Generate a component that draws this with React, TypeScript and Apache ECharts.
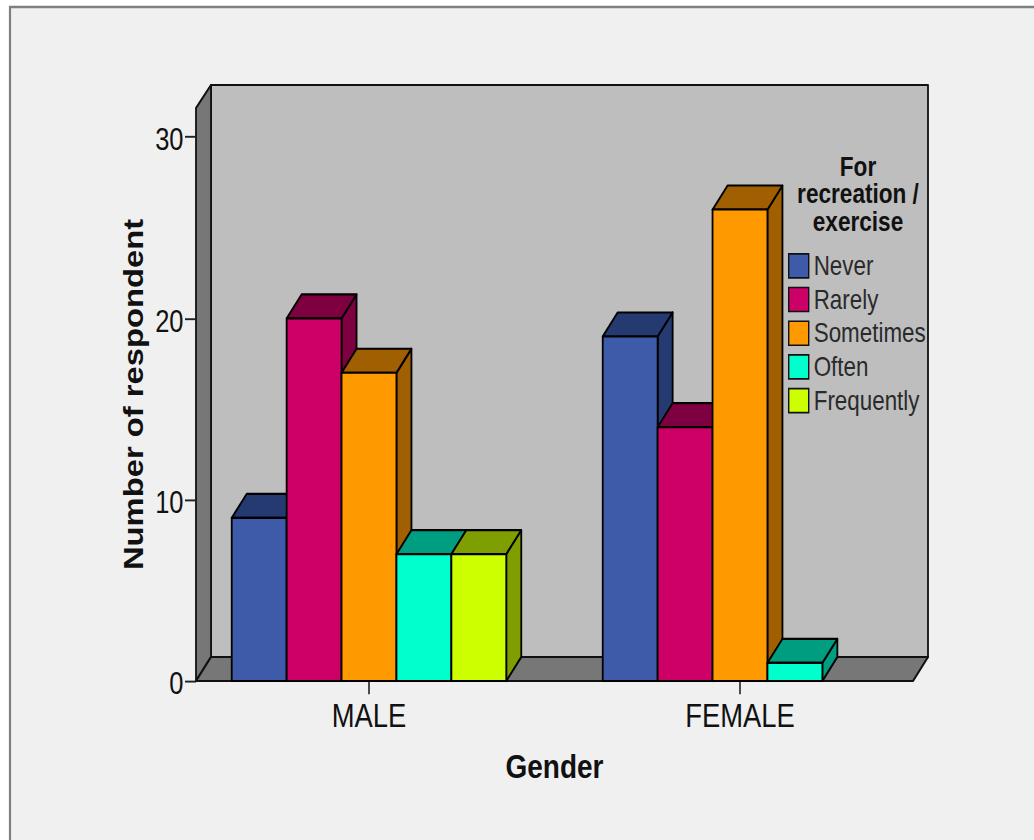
import React, { useEffect, useRef } from "react";
import * as echarts from "echarts";

const categories = ["MALE", "FEMALE"];
const responseLevels = ["Never", "Rarely", "Sometimes", "Often", "Frequently"];
const neverValues = [9, 19];
const rarelyValues = [20, 14];
const sometimesValues = [17, 26];
const oftenValues = [7, 1];
const frequentlyValues = [7, 0];
const yTicks = [0, 10, 20, 30];
const legendTitle = "For\nrecreation /\nexercise";

const frontColors = ["#3E5BA9", "#CC0066", "#FF9900", "#00FFCC", "#CCFF00"];
const shadeColors = ["#243A70", "#7F0040", "#A05F00", "#009E80", "#7F9E00"];

// The drawing is laid out in a 700px tall space and stretched to 840px.
const STRETCH = 1.2;
const DEPTH_X = 15;
const DEPTH_Y = 20;
const FONT = '"Liberation Sans", Arial, sans-serif';
const INK = "#111";

const FLOOR_Y = 567.5;
const FRONT_LEFT = 196;
const FRONT_RIGHT = 913;
const WALL_TOP = 85 / STRETCH;
const FRONT_TOP = 108 / STRETCH;

function barRenderer(seriesPos: number) {
  return (_params: any, api: any) => {
    const value = api.value(1);
    if (!value) return null;
    const [cx, top] = api.coord([api.value(0), value]);
    const base = api.coord([api.value(0), 0])[1];
    const width = api.size([1, 0])[0] * 0.148;
    const left = cx + (seriesPos - 2.5) * width;
    const right = left + width;
    const edge = { stroke: "#000", lineWidth: 1.8, lineJoin: "round" };
    const face = (points: number[][], fill: string) => ({
      type: "polygon",
      shape: { points },
      style: { fill, ...edge },
    });
    return {
      type: "group",
      children: [
        face(
          [[right, top], [right + DEPTH_X, top - DEPTH_Y], [right + DEPTH_X, base - DEPTH_Y], [right, base]],
          shadeColors[seriesPos]
        ),
        face(
          [[left, top], [right, top], [right + DEPTH_X, top - DEPTH_Y], [left + DEPTH_X, top - DEPTH_Y]],
          shadeColors[seriesPos]
        ),
        face([[left, top], [right, top], [right, base], [left, base]], frontColors[seriesPos]),
      ],
    };
  };
}

export default function App() {
  const ref = useRef<HTMLDivElement>(null);

  useEffect(() => {
    if (!ref.current) return;
    document.body.style.background = "#fff";
    const chart = echarts.init(ref.current, undefined, { renderer: "svg" });
    const valueSets = [neverValues, rarelyValues, sometimesValues, oftenValues, frequentlyValues];

    const wallEdge = { stroke: "#111", lineWidth: 1.8, lineJoin: "round" };

    chart.setOption({
      animation: false,
      textStyle: { fontFamily: FONT },
      grid: { left: 183.5, width: 742, top: FRONT_TOP, height: FLOOR_Y - FRONT_TOP },
      xAxis: {
        type: "category",
        data: categories,
        name: "Gender",
        nameLocation: "middle",
        nameGap: 57,
        nameTextStyle: { fontFamily: FONT, fontSize: 28, fontWeight: "bold", color: INK },
        axisLine: { show: false },
        axisTick: { show: true, alignWithLabel: true, length: 11, lineStyle: { color: "#222", width: 1.6 } },
        axisLabel: { fontFamily: FONT, fontSize: 27.4, color: INK, margin: 15 },
        splitLine: { show: false },
      },
      yAxis: {
        type: "value",
        min: 0,
        max: 31.6,
        interval: 10,
        offset: -12.5,
        name: "Number of respondent",
        nameLocation: "middle",
        nameGap: 49,
        nameMoveOverlap: false,
        nameTextStyle: { fontFamily: FONT, fontSize: 27.3, fontWeight: "bold", color: INK },
        axisLine: { show: false },
        axisTick: { show: true, customValues: yTicks, length: 11, lineStyle: { color: "#222", width: 1.6 } },
        axisLabel: {
          fontFamily: FONT,
          fontSize: 25.5,
          color: INK,
          margin: 12.5,
          customValues: yTicks,
          verticalAlign: "top",
          lineHeight: 5,
        },
        splitLine: { show: false },
      },
      legend: {
        orient: "vertical",
        left: 788,
        top: 210.5,
        data: responseLevels,
        icon: "rect",
        itemWidth: 20,
        itemHeight: 20,
        itemGap: 6.1,
        padding: 0,
        itemStyle: { borderColor: "#111", borderWidth: 1.4 },
        textStyle: { fontFamily: FONT, fontSize: 22.4, lineHeight: 20, color: "#2a2a2a" },
        selectedMode: false,
      },
      graphic: {
        elements: [
          {
            type: "rect",
            z: -10,
            shape: { x: 10, y: 7 / STRETCH, width: 1100, height: 800 },
            style: { fill: "#F0F0F0", stroke: "#808080", lineWidth: 2.2 },
          },
          {
            type: "rect",
            z: -5,
            shape: { x: FRONT_LEFT + DEPTH_X, y: WALL_TOP, width: FRONT_RIGHT - FRONT_LEFT, height: FLOOR_Y - DEPTH_Y - WALL_TOP },
            style: { fill: "#BEBEBE", ...wallEdge },
          },
          {
            type: "polygon",
            z: -4,
            shape: {
              points: [
                [FRONT_LEFT, FRONT_TOP],
                [FRONT_LEFT + DEPTH_X, WALL_TOP],
                [FRONT_LEFT + DEPTH_X, FLOOR_Y - DEPTH_Y],
                [FRONT_LEFT, FLOOR_Y],
              ],
            },
            style: { fill: "#777777", ...wallEdge },
          },
          {
            type: "polygon",
            z: -4,
            shape: {
              points: [
                [FRONT_LEFT, FLOOR_Y],
                [FRONT_RIGHT, FLOOR_Y],
                [FRONT_RIGHT + DEPTH_X, FLOOR_Y - DEPTH_Y],
                [FRONT_LEFT + DEPTH_X, FLOOR_Y - DEPTH_Y],
              ],
            },
            style: { fill: "#777777", ...wallEdge },
          },
          {
            type: "text",
            z: 20,
            x: 858,
            y: 152 / STRETCH,
            style: {
              text: legendTitle,
              fontFamily: FONT,
              fontSize: 22.6,
              fontWeight: "bold",
              lineHeight: 23,
              fill: INK,
              textAlign: "center",
              textVerticalAlign: "top",
            },
          },
        ],
      },
      series: responseLevels.map((name, i) => ({
        name,
        type: "custom",
        clip: false,
        itemStyle: { color: frontColors[i] },
        encode: { x: 0, y: 1 },
        data: categories.map((_, c) => [c, valueSets[i][c]]),
        renderItem: barRenderer(i),
      })),
    });

    return () => chart.dispose();
  }, []);

  return (
    <div style={{ position: "absolute", left: 0, top: 0, width: 1034, height: 840, overflow: "hidden" }}>
      <div
        ref={ref}
        style={{
          width: 1034,
          height: 840 / STRETCH,
          transform: `scaleY(${STRETCH})`,
          transformOrigin: "0 0",
        }}
      />
    </div>
  );
}
